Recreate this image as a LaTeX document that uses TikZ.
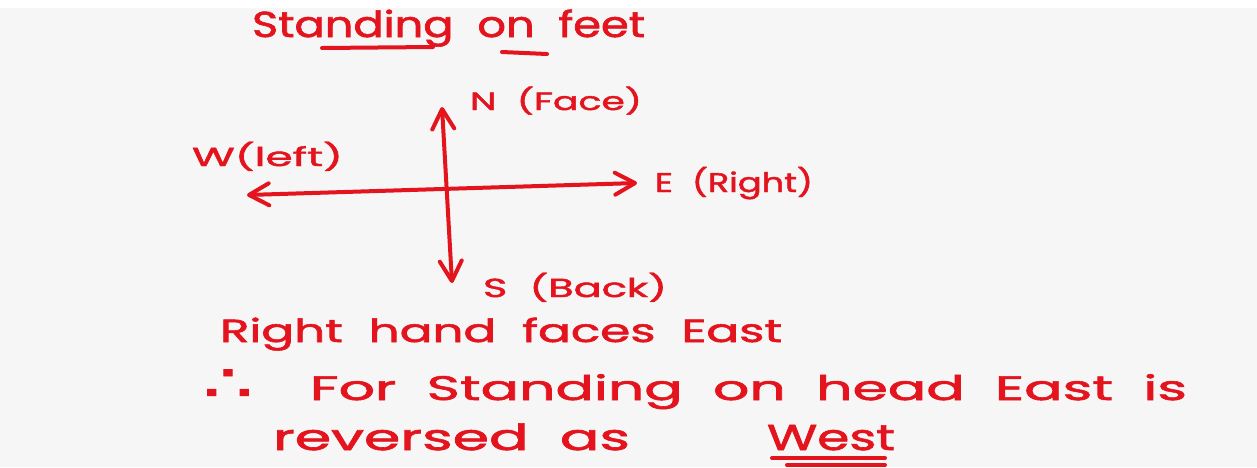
\documentclass[tikz,border=0pt]{standalone}
\usepackage{fontspec}
\usepackage{graphicx}
\usetikzlibrary{arrows.meta}
\newfontfamily\handfont[WordSpace=2,FakeBold=1.6]{Poppins}
\newfontfamily\symfont[FakeBold=1.6]{DejaVu Sans}
\definecolor{ink}{RGB}{228,20,30}
\definecolor{paper}{RGB}{246,246,246}
% stretch a line of text to a given width, keeping its height
\newcommand{\fitw}[2]{\resizebox{#1}{\height}{#2}}
\begin{document}
\begin{tikzpicture}[x=0.5pt,y=-0.5pt,
  note/.style={anchor=base west, inner sep=0pt, outer sep=0pt, text=ink},
  pen/.style={draw=ink, line width=2pt, line cap=round, line join=round},
  barb/.style={pen, {Straight Barb[round,length=10pt,width=11pt]}-{Straight Barb[round,length=10pt,width=11pt]}}]
% paper
\fill[paper] (0,0) rectangle (1257,467);
\fill[white] (0,0) rectangle (1257,8);
\useasboundingbox (0,0) rectangle (1257,467);

% heading
\node[note, font=\handfont\fontsize{18}{18}\selectfont] (title) at (252,37) {\fitw{196.5pt}{Standing on feet}};
\draw[pen] (322,48) -- (433,47);
\draw[pen] (502,52) -- (547,54);

% compass axes
\coordinate (wtip) at (247,195);
\coordinate (etip) at (637,183);
\coordinate (ntip) at (442,107);
\coordinate (stip) at (452,283);
\draw[barb] (wtip) -- (etip);
\draw[barb] (stip) -- (ntip);

% direction labels
\node[note, font=\handfont\fontsize{12.5}{12.5}\selectfont] (north) at (470,110) {\fitw{86pt}{N (Face)}};
\node[note, font=\handfont\fontsize{13}{13}\selectfont] (west) at (192,166) {\fitw{75.5pt}{W(left)}};
\node[note, font=\handfont\fontsize{13.5}{13.5}\selectfont] (east) at (655,192) {\fitw{79pt}{E (Right)}};
\node[note, font=\handfont\fontsize{13}{13}\selectfont] (south) at (483,297) {\fitw{92pt}{S (Back)}};

% reasoning
\node[note, font=\handfont\fontsize{16}{16}\selectfont] (line1) at (220,342) {\fitw{281pt}{Right hand faces East}};
\node[note, font=\symfont\fontsize{26}{26}\selectfont] (therefore) at (203,401) {\fitw{25pt}{∴}};
\node[note, font=\handfont\fontsize{17}{17}\selectfont] (line2) at (310,400) {\fitw{438.5pt}{For Standing on head East is}};
\node[note, font=\handfont\fontsize{18}{18}\selectfont] (line3) at (273,450) {\fitw{178.5pt}{reversed as}};
\node[note, font=\handfont\fontsize{18}{18}\selectfont] (answer) at (767,450) {\fitw{64pt}{West}};
\draw[pen] (772,458) -- (885,458);
\draw[pen] (787,465) -- (885,465);
\end{tikzpicture}
\end{document}
